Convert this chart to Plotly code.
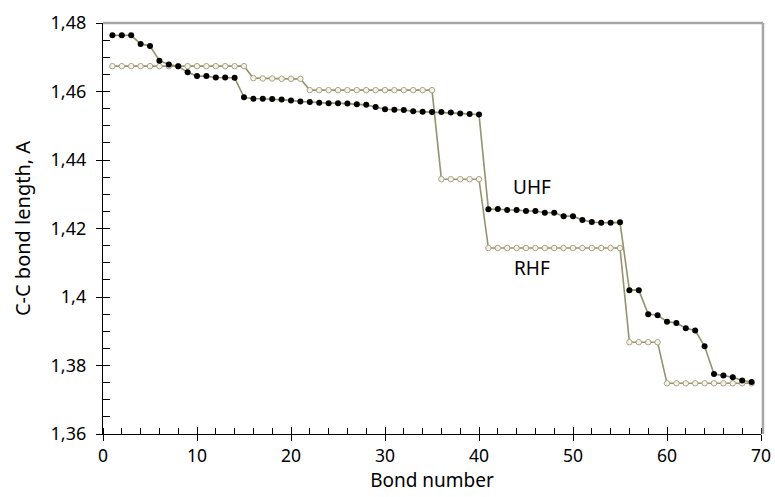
import plotly.graph_objects as go

bond = list(range(1, 70))

uhf = [1.4764, 1.4764, 1.4764, 1.4739, 1.4733, 1.4690, 1.4679, 1.4674, 1.4656, 1.4645,
       1.4645, 1.4641, 1.4641, 1.4640, 1.4583, 1.4579, 1.4579, 1.4578, 1.4577, 1.4574,
       1.4571, 1.4569, 1.4567, 1.4566, 1.4566, 1.4565, 1.4563, 1.4561, 1.4555, 1.4548,
       1.4547, 1.4546, 1.4542, 1.4541, 1.4540, 1.4540, 1.4539, 1.4536, 1.4534, 1.4533,
       1.4256, 1.4257, 1.4254, 1.4254, 1.4251, 1.4251, 1.4246, 1.4246, 1.4236, 1.4236,
       1.4225, 1.4219, 1.4217, 1.4217, 1.4218, 1.4020, 1.4020, 1.3950, 1.3947, 1.3928,
       1.3924, 1.3909, 1.3902, 1.3856, 1.3775, 1.3771, 1.3766, 1.3756, 1.3752]

rhf = [1.4674] * 15 + [1.4639, 1.4638, 1.4638, 1.4637, 1.4637, 1.4637] + [1.4604] * 14 \
      + [1.4344] * 5 + [1.4143] * 15 + [1.3868] * 4 + [1.3748] * 10

y_tickvals = [1.36, 1.38, 1.40, 1.42, 1.44, 1.46, 1.48]
y_ticktext = ["1,36", "1,38", "1,4", "1,42", "1,44", "1,46", "1,48"]
x_tickvals = [0, 10, 20, 30, 40, 50, 60, 70]

line_col = "#97916c"
font = "Noto Sans"

fig = go.Figure()
fig.add_trace(go.Scatter(
    x=bond, y=rhf, mode="lines+markers", name="RHF",
    line=dict(color=line_col, width=1.6),
    marker=dict(symbol="circle", size=5.5, color="#f4f2ea",
                line=dict(color="#aaa584", width=1)),
))
fig.add_trace(go.Scatter(
    x=bond, y=uhf, mode="lines+markers", name="UHF",
    line=dict(color=line_col, width=1.6),
    marker=dict(symbol="circle", size=6, color="#000000",
                line=dict(color="#000000", width=0)),
))

fig.add_annotation(x=45.6, y=1.4321, text="UHF", showarrow=False,
                   font=dict(family=font, size=19, color="#000000"))
fig.add_annotation(x=45.6, y=1.4085, text="RHF", showarrow=False,
                   font=dict(family=font, size=19, color="#000000"))

fig.update_layout(
    width=775, height=497,
    margin=dict(l=103, r=14, t=23, b=63),
    paper_bgcolor="white", plot_bgcolor="white",
    showlegend=False,
    font=dict(family=font, size=18, color="#000000"),
    xaxis=dict(
        range=[0, 70], tickvals=x_tickvals, showgrid=False, zeroline=False,
        showline=True, linecolor="#000000", linewidth=1.3, automargin=False,
        ticks="outside", ticklen=6, tickcolor="#000000",
        minor=dict(dtick=2, ticks="inside", ticklen=6, tickcolor="#000000"),
        title=dict(text="Bond number", font=dict(size=19), standoff=1),
        tickfont=dict(size=17.5),
    ),
    yaxis=dict(
        range=[1.36, 1.48], tickvals=y_tickvals, ticktext=y_ticktext,
        showgrid=False, zeroline=False, automargin=False,
        showline=True, linecolor="#000000", linewidth=1.3,
        ticks="outside", ticklen=6, tickcolor="#000000",
        minor=dict(dtick=0.005, tick0=1.36, ticks="inside", ticklen=7, tickcolor="#000000"),
        title=dict(text="C-C bond length, A", font=dict(size=20), standoff=14),
        tickfont=dict(size=18),
        ticklabelstandoff=6,
    ),
    xaxis2=dict(overlaying="x", matches="x", range=[0, 70], tickvals=x_tickvals,
                showticklabels=False, ticks="inside", ticklen=7, tickcolor="#000000",
                showgrid=False, zeroline=False, showline=False, side="bottom", anchor="y",
                automargin=False),
    yaxis2=dict(overlaying="y", matches="y", range=[1.36, 1.48], tickvals=y_tickvals,
                showticklabels=False, ticks="inside", ticklen=7, tickcolor="#000000",
                showgrid=False, zeroline=False, showline=False, side="left", anchor="x",
                automargin=False),
    shapes=[
        dict(type="line", xref="paper", yref="paper", x0=0, x1=1.003, y0=1, y1=1,
             line=dict(color="#a6a6a6", width=2.5)),
        dict(type="line", xref="paper", yref="paper", x0=1.003, x1=1.003, y0=0, y1=1,
             line=dict(color="#a6a6a6", width=2.5)),
    ],
)
fig.add_trace(go.Scatter(x=[None], y=[None], xaxis="x2", yaxis="y2",
                         showlegend=False, hoverinfo="skip"))

fig.write_html("out.html",
               config={"displayModeBar": False},
               post_script="document.body.style.margin='0';document.body.style.overflow='hidden';")
